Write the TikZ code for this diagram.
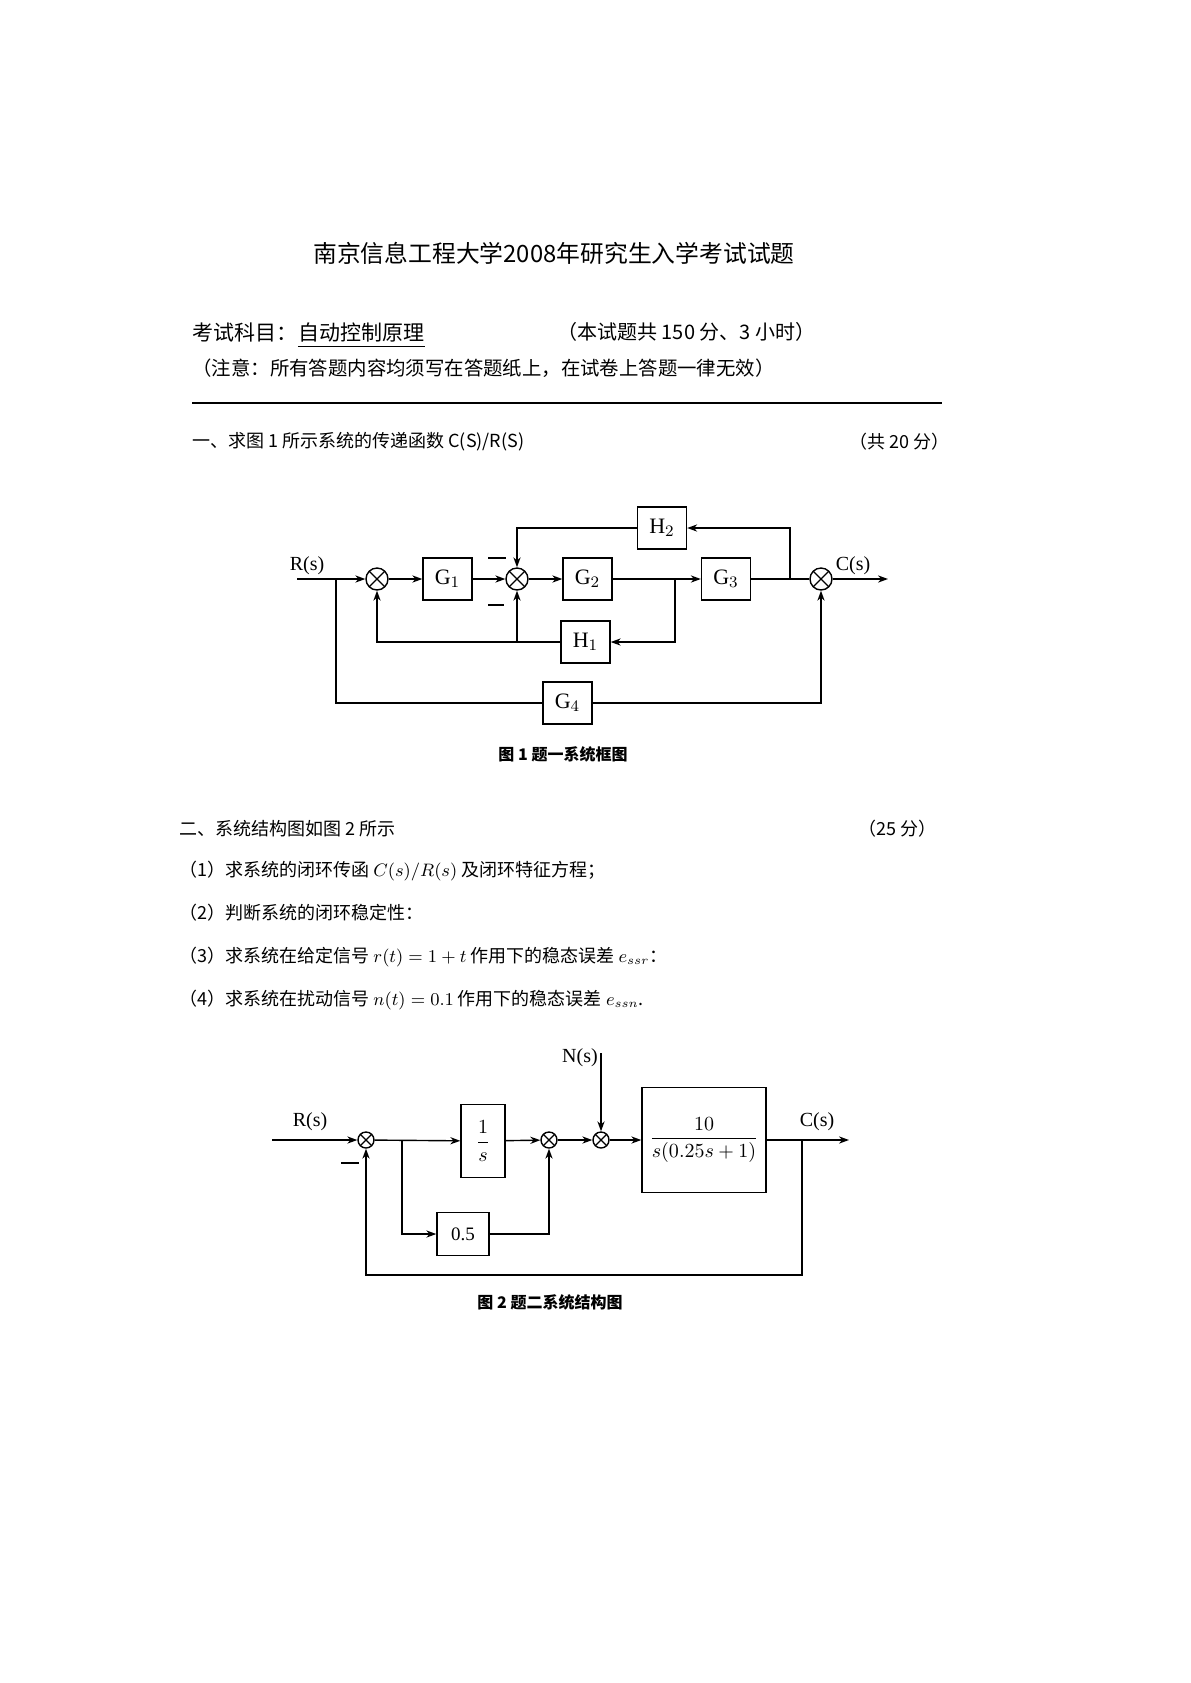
\documentclass[tikz,border=0pt]{standalone}
\usepackage{fontspec}
\usepackage{amsmath}
\newfontfamily\cjk{Noto Sans CJK SC}
\newfontfamily\tms{Liberation Serif}
\usetikzlibrary{arrows.meta}
\tikzset{
  blk/.style={draw,line width=0.7pt,inner sep=0pt,minimum width=24.5pt,minimum height=21pt,font=\tms\fontsize{11}{13}\selectfont},
  sumj/.style={draw,circle,line width=0.7pt,inner sep=0pt,minimum size=11pt,
    path picture={\draw[line width=0.6pt] (path picture bounding box.north west)--(path picture bounding box.south east)
      (path picture bounding box.north east)--(path picture bounding box.south west);}},
  sig/.style={line width=0.7pt},
  lbl/.style={inner sep=0pt,font=\tms\fontsize{10}{12}\selectfont},
  txt/.style={inner sep=0pt,anchor=west,font=\cjk\fontsize{9}{11}\selectfont},
}
\begin{document}
\begin{tikzpicture}[x=0.5pt,y=-0.5pt,>={Stealth[length=5pt,width=3.6pt]}]
\useasboundingbox (0,0) rectangle (1190,1683);
\fill[white] (0,0) rectangle (1190,1683);

\node[inner sep=0pt,font=\cjk\fontsize{11.9}{14}\selectfont] (title) at (554,253) {南京信息工程大学2008年研究生入学考试试题};
\node[txt,font=\cjk\fontsize{10.5}{12}\selectfont] (subjhead) at (192,332) {考试科目：};
\node[txt,font=\cjk\fontsize{10.5}{12}\selectfont] (subj) at (subjhead.east) {自动控制原理};
\draw[line width=0.6pt] ([yshift=-2pt]subj.south west) -- ([yshift=-2pt]subj.south east);
\node[txt,font=\cjk\fontsize{10}{12}\selectfont] (time) at (557,332) {（本试题共 150 分、3 小时）};
\node[txt,font=\cjk\fontsize{9.7}{12}\selectfont] (note) at (192,368) {（注意：所有答题内容均须写在答题纸上，在试卷上答题一律无效）};
\draw[line width=0.8pt] (192,403) -- (942,403);
\node[txt] (q1) at (192,442) {一、求图 1 所示系统的传递函数 C(S)/R(S)};
\node[txt,anchor=east] (q1pts) at (950,442) {（共 20 分）};

\node[sumj] (s1) at (377,579) {};
\node[blk] (g1) at (447.5,579) {G$_1$};
\node[sumj] (s2) at (517,579) {};
\node[blk] (g2) at (587.5,579) {G$_2$};
\node[blk] (g3) at (726,579) {G$_3$};
\node[sumj] (s3) at (821,579) {};
\node[blk] (h2) at (662,528) {H$_2$};
\node[blk] (h1) at (585.5,642) {H$_1$};
\node[blk] (g4) at (567.5,703) {G$_4$};
\coordinate (r1) at (297,579);
\coordinate (b1) at (336,579);
\coordinate (b2) at (675,579);
\coordinate (b3) at (790,579);
\coordinate (c1) at (888,579);
\node[lbl] (rlab) at (307,566) {R(s)};
\node[lbl] (clab) at (853,566) {C(s)};
\node[inner sep=0pt] (m1) at (497,558) {\rule{9pt}{0.7pt}};
\node[inner sep=0pt] (m2) at (496,605) {\rule{8pt}{0.7pt}};

\draw[sig,->] (r1) -- (s1.west);
\draw[sig,->] (s1) -- (g1);
\draw[sig,->] (g1) -- (s2);
\draw[sig,->] (s2) -- (g2);
\draw[sig,->] (g2) -- (g3);
\draw[sig] (g3) -- (s3);
\draw[sig,->] (s3) -- (c1);
\draw[sig,->] (b3) |- (h2.east);
\draw[sig,->] (h2.west) -| (s2.north);
\draw[sig,->] (b2) |- (h1.east);
\draw[sig,->] (h1.west) -| (s1.south);
\draw[sig,->] (s2 |- h1) -- (s2.south);
\draw[sig] (b1) |- (g4.west);
\draw[sig,->] (g4.east) -| (s3.south);
\node[inner sep=0pt,font=\cjk\bfseries\fontsize{8}{10}\selectfont] (cap1) at (563,754) {图 1 题一系统框图};

\node[txt] (q2) at (179,829) {二、系统结构图如图 2 所示};
\node[txt,anchor=east] (q2pts) at (937,829) {（25 分）};
\node[txt] (q2a) at (179,871) {（1）求系统的闭环传函 $C(s)/R(s)$ 及闭环特征方程；};
\node[txt] (q2b) at (179,913) {（2）判断系统的闭环稳定性：};
\node[txt] (q2c) at (179,957) {（3）求系统在给定信号 $r(t)=1+t$ 作用下的稳态误差 $e_{ssr}$：};
\node[txt] (q2d) at (179,1000) {（4）求系统在扰动信号 $n(t)=0.1$ 作用下的稳态误差 $e_{ssn}$.};

\node[sumj,minimum size=8pt] (f1) at (366,1140) {};
\node[blk,minimum width=22pt,minimum height=36.5pt,font=\fontsize{10}{12}\selectfont] (inv) at (483,1141) {$\dfrac{1}{s}$};
\node[blk,minimum width=26pt,minimum height=21.5pt,font=\tms\fontsize{9.5}{11}\selectfont] (kp) at (463,1234) {0.5};
\node[sumj,minimum size=8pt] (f2) at (549,1140) {};
\node[sumj,minimum size=8pt] (f3) at (601,1140) {};
\node[blk,minimum width=62pt,minimum height=52.5pt,font=\fontsize{10}{12}\selectfont] (plant) at (704,1140) {$\dfrac{10}{s(0.25s+1)}$};
\coordinate (r2) at (272,1140);
\coordinate (b4) at (402,1140);
\coordinate (b5) at (802,1140);
\coordinate (c2) at (849,1140);
\coordinate (d2) at (802,1275);
\coordinate (n2) at (601,1053);
\node[lbl] (rlab2) at (310,1122) {R(s)};
\node[lbl] (nlab2) at (580,1058) {N(s)};
\node[lbl] (clab2) at (817,1122) {C(s)};
\node[inner sep=0pt] (m3) at (350,1163) {\rule{9pt}{0.7pt}};

\draw[sig,->] (r2) -- (f1.west);
\draw[sig,->] (f1) -- (inv);
\draw[sig,->] (b4) |- (kp.west);
\draw[sig,->] (inv) -- (f2);
\draw[sig,->] (kp.east) -| (f2.south);
\draw[sig,->] (f2) -- (f3);
\draw[sig,->] (n2) -- (f3.north);
\draw[sig,->] (f3) -- (plant);
\draw[sig,->] (plant) -- (c2);
\draw[sig,->] (b5) -- (d2) -| (f1.south);
\node[inner sep=0pt,font=\cjk\bfseries\fontsize{8}{10}\selectfont] (cap2) at (550,1302) {图 2 题二系统结构图};
\end{tikzpicture}
\end{document}
